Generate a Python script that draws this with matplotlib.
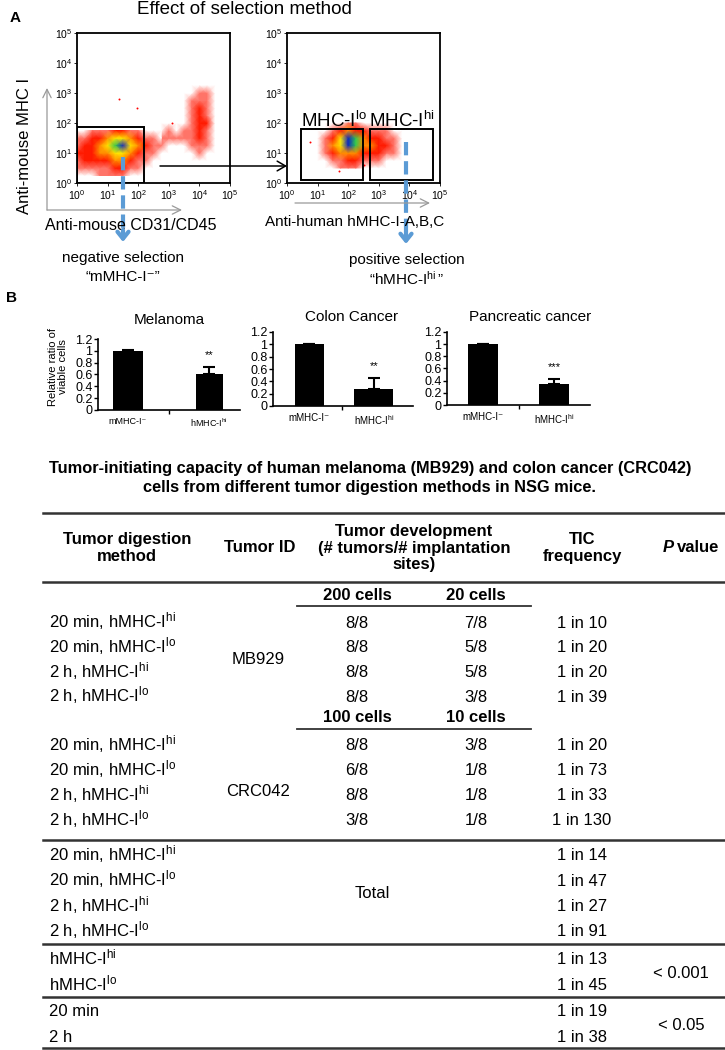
import numpy as np
import matplotlib
matplotlib.use("Agg")
import matplotlib.pyplot as plt
from matplotlib.colors import LinearSegmentedColormap
from matplotlib.patches import Rectangle

plt.rcParams['font.family'] = ['Liberation Sans', 'DejaVu Sans']
plt.rcParams['mathtext.fontset'] = 'custom'
plt.rcParams['mathtext.rm'] = 'Liberation Sans'
plt.rcParams['mathtext.it'] = 'Liberation Sans:italic'
plt.rcParams['mathtext.bf'] = 'Liberation Sans:bold'

W, H = 725, 1050

# ---------------- panel A: flow plots (density levels 0..6, 0.25 decade grid)
decades = [0, 1, 2, 3, 4, 5]
grid_step = 0.25

# rows go from low to high MHC I
mouse_core_origin = (0.0, 0.25)
mouse_core = [
    [0, 0, 0, 1, 1, 1, 1, 0, 0, 0, 0, 0],
    [1, 1, 1, 1, 1, 2, 2, 1, 1, 0, 0, 0],
    [1, 2, 2, 2, 2, 3, 3, 2, 1, 1, 0, 0],
    [2, 2, 2, 3, 3, 4, 4, 3, 2, 1, 1, 0],
    [1, 2, 2, 3, 4, 5, 6, 4, 3, 2, 1, 1],
    [1, 1, 2, 2, 3, 4, 4, 3, 2, 1, 1, 0],
    [0, 0, 1, 1, 1, 2, 2, 1, 1, 0, 0, 0],
]
mouse_side_origin = (2.5, 0.75)
mouse_side = [
    [0, 0, 0, 0, 0, 0, 0, 0, 0],
    [0, 0, 0, 0, 0, 0, 1, 0, 0],
    [1, 1, 0, 0, 0, 1, 1, 1, 0],
    [1, 1, 1, 1, 1, 1, 2, 1, 0],
    [0, 0, 1, 0, 1, 1, 2, 1, 0],
    [0, 0, 0, 0, 0, 1, 2, 2, 0],
    [0, 0, 0, 0, 0, 1, 2, 1, 0],
    [0, 0, 0, 0, 0, 1, 2, 1, 0],
    [0, 0, 0, 0, 0, 1, 1, 1, 0],
    [0, 0, 0, 0, 0, 0, 1, 1, 0],
    [0, 0, 0, 0, 0, 0, 0, 0, 0],
]
mouse_stray_x = [1.38, 1.95, 3.1]
mouse_stray_y = [2.8, 2.5, 2.0]
mouse_gate_x = [0.0, 2.19]
mouse_gate_y = [0.0, 1.87]

human_core_origin = (1.0, 0.5)
human_core = [
    [0, 0, 0, 1, 1, 1, 0, 0, 0, 0, 0, 0],
    [0, 0, 1, 1, 2, 2, 1, 1, 1, 0, 0, 0],
    [0, 1, 2, 3, 3, 3, 2, 2, 2, 1, 1, 0],
    [0, 1, 3, 4, 6, 5, 3, 3, 2, 2, 1, 0],
    [0, 1, 2, 4, 6, 5, 3, 2, 2, 1, 1, 0],
    [0, 0, 1, 2, 3, 2, 2, 1, 1, 1, 0, 0],
    [0, 0, 0, 0, 1, 1, 0, 0, 0, 0, 0, 0],
]
human_stray_x = [0.75, 1.7, 2.5]
human_stray_y = [1.35, 0.4, 0.6]
human_gate_lo_x = [0.46, 2.48]
human_gate_hi_x = [2.71, 4.77]
human_gate_y = [0.1, 1.8]

# ---------------- panel B: bar charts
bar_titles = ["Melanoma", "Colon Cancer", "Pancreatic cancer"]
bar_groups = ["mMHC-I\u207b", "hMHC-I$^{\\mathrm{hi}}$"]
bar_means = [[1.0, 0.61], [1.0, 0.28], [1.0, 0.34]]
bar_errs = [[0.01, 0.12], [0.005, 0.17], [0.005, 0.08]]
bar_stars = ["**", "**", "***"]
bar_yticks = [0, 0.2, 0.4, 0.6, 0.8, 1, 1.2]

# ---------------- table
table_title = ("Tumor-initiating capacity of human melanoma (MB929) and colon cancer (CRC042)\n"
               "cells from different tumor digestion methods in NSG mice.")
methods = ["20 min, hMHC-I$^{\\mathrm{hi}}$", "20 min, hMHC-I$^{\\mathrm{lo}}$",
           "2 h, hMHC-I$^{\\mathrm{hi}}$", "2 h, hMHC-I$^{\\mathrm{lo}}$"]
mb929_cells = ["200 cells", "20 cells"]
mb929_high = ["8/8", "8/8", "8/8", "8/8"]
mb929_low = ["7/8", "5/8", "5/8", "3/8"]
mb929_tic = ["1 in 10", "1 in 20", "1 in 20", "1 in 39"]
crc042_cells = ["100 cells", "10 cells"]
crc042_high = ["8/8", "6/8", "8/8", "3/8"]
crc042_low = ["3/8", "1/8", "1/8", "1/8"]
crc042_tic = ["1 in 20", "1 in 73", "1 in 33", "1 in 130"]
total_tic = ["1 in 14", "1 in 47", "1 in 27", "1 in 91"]
mhc_groups = ["hMHC-I$^{\\mathrm{hi}}$", "hMHC-I$^{\\mathrm{lo}}$"]
mhc_tic = ["1 in 13", "1 in 45"]
mhc_p = "< 0.001"
time_groups = ["20 min", "2 h"]
time_tic = ["1 in 19", "1 in 38"]
time_p = "< 0.05"


def box(l, t, r, b):
    return [l / W, 1 - b / H, (r - l) / W, (b - t) / H]


flow_cmap = LinearSegmentedColormap.from_list("flow", [
    (0.0, (1.0, 1.0, 1.0)),
    (1 / 6, (1.0, 0.45, 0.4)),
    (2 / 6, (1.0, 0.1, 0.0)),
    (3 / 6, (1.0, 0.55, 0.0)),
    (4 / 6, (1.0, 0.9, 0.0)),
    (5 / 6, (0.2, 0.8, 0.3)),
    (1.0, (0.05, 0.15, 0.75)),
])


def draw_density(ax, origin, grid):
    g = np.array(grid, float)
    ny, nx = g.shape
    xs = 10 ** (origin[0] + grid_step * np.arange(nx))
    ys = 10 ** (origin[1] + grid_step * np.arange(ny))
    X, Y = np.meshgrid(xs, ys)
    ax.pcolormesh(X, Y, g, shading='gouraud', cmap=flow_cmap, vmin=0, vmax=6,
                  antialiased=False)


def flow_axes(rect):
    ax = fig.add_axes(rect)
    ax.set_xscale('log')
    ax.set_yscale('log')
    ax.set_xlim(1, 1e5)
    ax.set_ylim(1, 1e5)
    ticks = [10.0 ** d for d in decades]
    labels = ["$10^{%d}$" % d for d in decades]
    ax.set_xticks(ticks, labels)
    ax.set_yticks(ticks, labels)
    ax.minorticks_off()
    ax.tick_params(labelsize=7.5, length=2, width=0.6, pad=1.5)
    for s in ax.spines.values():
        s.set_linewidth(1.3)
        s.set_zorder(6)
    return ax


def gate(ax, gx, gy):
    x0, x1 = 10 ** gx[0], 10 ** gx[1]
    y0, y1 = 10 ** gy[0], 10 ** gy[1]
    ax.add_patch(Rectangle((x0, y0), x1 - x0, y1 - y0, fill=False,
                           edgecolor='black', lw=1.4, zorder=5))


fig = plt.figure(figsize=(W / 100, H / 100), dpi=100)

# flow plot 1
ax1 = flow_axes(box(77, 33, 230, 183))
draw_density(ax1, mouse_side_origin, mouse_side)
draw_density(ax1, mouse_core_origin, mouse_core)
ax1.scatter(10 ** np.array(mouse_stray_x), 10 ** np.array(mouse_stray_y), s=2, color='red', lw=0)
gate(ax1, mouse_gate_x, mouse_gate_y)

# flow plot 2
ax2 = flow_axes(box(287, 33, 440, 183))
draw_density(ax2, human_core_origin, human_core)
ax2.scatter(10 ** np.array(human_stray_x), 10 ** np.array(human_stray_y), s=2, color='red', lw=0)
gate(ax2, human_gate_lo_x, human_gate_y)
gate(ax2, human_gate_hi_x, human_gate_y)

# bar charts
bar_boxes = [(98, 339, 240, 410), (273, 332, 413, 406), (447, 332, 590, 405)]
bar_centers = [(128, 209), (309, 374), (483, 554)]
bar_widths = [(29, 27), (29, 39), (30, 30)]
xlabel_sizes = [6.5, 7, 7]
for i in range(3):
    l, t, r, b = bar_boxes[i]
    c1, c2 = bar_centers[i]
    d = c2 - c1
    ax = fig.add_axes(box(l, t, r, b))
    pos = [0, 1]
    tops = [m + e for m, e in zip(bar_means[i], bar_errs[i])]
    ax.bar(pos, bar_means[i], width=[w / d for w in bar_widths[i]], color='black')
    ax.errorbar(pos, bar_means[i], yerr=[[0, 0], bar_errs[i]], fmt='none',
                ecolor='black', elinewidth=1.5, capsize=4, capthick=1.5)
    ax.text(1, tops[1] + 0.2, bar_stars[i], ha='center', va='center', fontsize=8)
    ax.set_xlim((l - c1) / d, (r - c1) / d)
    ax.set_ylim(0, 1.2)
    ax.set_yticks(bar_yticks, [("%g" % v) for v in bar_yticks])
    ax.set_xticks(pos, bar_groups)
    ax.set_xticks([0.5], minor=True)
    ax.tick_params(axis='x', which='major', length=0, labelsize=xlabel_sizes[i], pad=5)
    ax.tick_params(axis='x', which='minor', length=3, width=1)
    ax.tick_params(axis='y', labelsize=9, length=3, width=1, pad=1)
    ax.spines['top'].set_visible(False)
    ax.spines['right'].set_visible(False)
    ax.spines['left'].set_linewidth(1.2)
    ax.spines['bottom'].set_linewidth(1.2)

# overlay in pixel coordinates
ax0 = fig.add_axes([0, 0, 1, 1])
ax0.set_xlim(0, W)
ax0.set_ylim(H, 0)
ax0.axis('off')
ax0.patch.set_alpha(0)

ax0.text(15, 18, "A", fontsize=11, fontweight='bold', ha='center', va='center')
ax0.text(244, 9, "Effect of selection method", fontsize=13.5, ha='center', va='center')
ax0.text(25, 146, "Anti-mouse MHC I", fontsize=12, rotation=90, ha='center', va='center')
ax0.text(131, 225, "Anti-mouse CD31/CD45", fontsize=11.5, ha='center', va='center')
ax0.text(355, 222, "Anti-human hMHC-I-A,B,C", fontsize=11, ha='center', va='center')
ax0.text(301, 127, "MHC-I$^{\\mathrm{lo}}$", fontsize=13.5, ha='left', va='baseline')
ax0.text(369, 127, "MHC-I$^{\\mathrm{hi}}$", fontsize=13.5, ha='left', va='baseline')
ax0.text(123, 258, "negative selection", fontsize=11, ha='center', va='center')
ax0.text(123, 277, "\u201cmMHC-I\u207b\u201d", fontsize=11, ha='center', va='center')
ax0.text(407, 260, "positive selection", fontsize=11, ha='center', va='center')
ax0.text(407, 279, "\u201chMHC-I$^{\\mathrm{hi}}\\,$\u201d", fontsize=11, ha='center', va='center')

gray = '#9a9a9a'
ax0.annotate('', xy=(47, 88), xytext=(47, 210),
             arrowprops=dict(arrowstyle='->,head_length=0.6,head_width=0.3', color=gray, lw=0.9,
                             shrinkA=0, shrinkB=0))
ax0.annotate('', xy=(182, 210), xytext=(47, 210),
             arrowprops=dict(arrowstyle='->,head_length=0.6,head_width=0.3', color=gray, lw=0.9,
                             shrinkA=0, shrinkB=0))
ax0.annotate('', xy=(430, 203), xytext=(295, 203),
             arrowprops=dict(arrowstyle='->,head_length=0.6,head_width=0.3', color=gray, lw=0.9,
                             shrinkA=0, shrinkB=0))
ax0.annotate('', xy=(287, 166), xytext=(160, 166),
             arrowprops=dict(arrowstyle='->,head_length=0.6,head_width=0.35', color='black', lw=1.1,
                             shrinkA=0, shrinkB=0))

blue = '#5b9bd5'
for x, y0, y1 in [(123, 157, 236), (406, 142, 238)]:
    ax0.plot([x, x], [y0, y1 - 4], color=blue, lw=3, dashes=(3.2, 1.4))
    ax0.annotate('', xy=(x, y1 + 6), xytext=(x, y1 - 6),
                 arrowprops=dict(arrowstyle='->,head_length=0.5,head_width=0.4', color=blue, lw=3,
                                 shrinkA=0, shrinkB=0))

# panel B labels
ax0.text(12, 298, "B", fontsize=11, fontweight='bold', ha='center', va='center')
title_pos = [(169, 320), (352, 317), (530, 317)]
for (x, y), t in zip(title_pos, bar_titles):
    ax0.text(x, y, t, fontsize=11, ha='center', va='center')
ax0.text(58, 367, "Relative ratio of\nviable cells", fontsize=8, rotation=90,
         ha='center', va='center', linespacing=1.1)

# table
fs = 12
rule_c = '#333333'
ax0.text(370, 478, table_title, fontsize=11.8, fontweight='bold', ha='center', va='center',
         linespacing=1.4)
for y in [513, 582, 840, 944, 997, 1048]:
    ax0.plot([43, 725], [y, y], color=rule_c, lw=1.8)

col_method, col_id, col_a, col_b, col_tic, col_p = 49, 258, 357, 476, 582, 681
ax0.text(127, 548, "Tumor digestion\nmethod", fontsize=fs, fontweight='bold',
         ha='center', va='center', linespacing=1.2)
ax0.text(260, 548, "Tumor ID", fontsize=fs, fontweight='bold', ha='center', va='center')
ax0.text(414, 548, "Tumor development\n(# tumors/# implantation\nsites)", fontsize=fs,
         fontweight='bold', ha='center', va='center', linespacing=1.15)
ax0.text(582, 548, "TIC\nfrequency", fontsize=fs, fontweight='bold', ha='center', va='center',
         linespacing=1.2)
ax0.text(674, 548, "P", fontsize=fs, fontweight='bold', style='italic', ha='right', va='center')
ax0.text(677, 548, "value", fontsize=fs, fontweight='bold', ha='left', va='center')


def row_text(x, yc, s, ha='center'):
    ax0.text(x, yc + 5.5, s, fontsize=fs, ha=ha, va='baseline')


def block(y_head, cells, high, low, tic, tumor_id, y_id):
    ax0.text(col_a, y_head, cells[0], fontsize=fs, fontweight='bold', ha='center', va='center')
    ax0.text(col_b, y_head, cells[1], fontsize=fs, fontweight='bold', ha='center', va='center')
    ax0.plot([297, 531], [y_head + 11, y_head + 11], color=rule_c, lw=1.3)
    y0 = y_head + 27
    for k in range(len(methods)):
        y = y0 + k * 24.8
        row_text(col_method, y, methods[k], ha='left')
        row_text(col_a, y, high[k])
        row_text(col_b, y, low[k])
        row_text(col_tic, y, tic[k])
    row_text(col_id, y_id, tumor_id)


block(595, mb929_cells, mb929_high, mb929_low, mb929_tic, "MB929", 658)
block(718, crc042_cells, crc042_high, crc042_low, crc042_tic, "CRC042", 790)

for k in range(len(methods)):
    y = 855 + k * 25.3
    row_text(col_method, y, methods[k], ha='left')
    row_text(col_tic, y, total_tic[k])
row_text(372, 893, "Total")

for k in range(2):
    row_text(col_method, 959 + k * 25.5, mhc_groups[k], ha='left')
    row_text(col_tic, 959 + k * 25.5, mhc_tic[k])
    row_text(col_method, 1011 + k * 25.5, time_groups[k], ha='left')
    row_text(col_tic, 1011 + k * 25.5, time_tic[k])
row_text(col_p, 972, mhc_p)
row_text(col_p, 1024, time_p)

fig.savefig("out.png", dpi=100)
